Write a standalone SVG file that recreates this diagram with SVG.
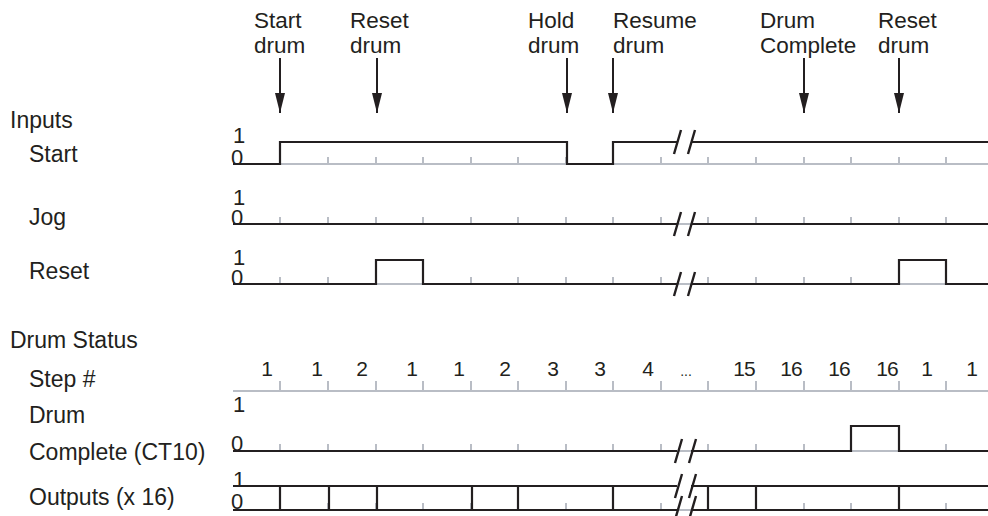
<svg xmlns="http://www.w3.org/2000/svg" width="988" height="516" viewBox="0 0 988 516">
<style>
text{font-family:"Liberation Sans",Arial,sans-serif;fill:#231f20}
.lbl{font-size:23px}
.top{font-size:22.5px}
.lv{font-size:22px}
.num{font-size:21px;text-anchor:middle}
.axis{stroke:#b9bdc5;stroke-width:2;fill:none}
.tick{stroke:#b9bdc5;stroke-width:2;fill:none}
.sig{stroke:#231f20;stroke-width:2.2;fill:none}
.brk{stroke:#231f20;stroke-width:2.4;fill:none}
.arr{stroke:#231f20;stroke-width:2;fill:none;marker-end:url(#ah)}
</style>
<defs>
<marker id="ah" viewBox="0 -5 20 10" refX="20" refY="0" markerWidth="20" markerHeight="10" markerUnits="userSpaceOnUse" orient="auto">
<path d="M0,-5 L20,0 L0,5 z" fill="#231f20"/>
</marker>
<path id="ticks" class="tick" d="M280,0v-7M328,0v-7M376,0v-7M423,0v-7M471,0v-7M518,0v-7M566,0v-7M613,0v-7M661,0v-7M708,0v-7M756,0v-7M804,0v-7M851,0v-7M899,0v-7M946,0v-7"/>
<path id="slash" class="brk" d="M-14,12L-7,-12M0,12L7,-12"/>
</defs>
<rect width="988" height="516" fill="#ffffff"/>

<g id="event-labels">
<text class="top" x="254" y="28">Start</text><text class="top" x="254" y="53">drum</text>
<text class="top" x="350" y="28">Reset</text><text class="top" x="350" y="53">drum</text>
<text class="top" x="528" y="28">Hold</text><text class="top" x="528" y="53">drum</text>
<text class="top" x="613" y="28">Resume</text><text class="top" x="613" y="53">drum</text>
<text class="top" x="760" y="28">Drum</text><text class="top" x="760" y="53">Complete</text>
<text class="top" x="878" y="28">Reset</text><text class="top" x="878" y="53">drum</text>
</g>

<g id="connectors">
<line class="arr" x1="280" y1="58" x2="280" y2="113"/>
<line class="arr" x1="377" y1="58" x2="377" y2="113"/>
<line class="arr" x1="567" y1="58" x2="567" y2="113"/>
<line class="arr" x1="613" y1="58" x2="613" y2="113"/>
<line class="arr" x1="804" y1="58" x2="804" y2="113"/>
<line class="arr" x1="899" y1="58" x2="899" y2="113"/>
</g>

<g id="row-labels">
<text class="lbl" x="10" y="128">Inputs</text>
<text class="lbl" x="29" y="162">Start</text>
<text class="lbl" x="29" y="225">Jog</text>
<text class="lbl" x="29" y="279">Reset</text>
<text class="lbl" x="10" y="348">Drum Status</text>
<text class="lbl" x="29" y="387">Step #</text>
<text class="lbl" x="29" y="423">Drum</text>
<text class="lbl" x="29" y="460">Complete (CT10)</text>
<text class="lbl" x="29" y="505">Outputs (x 16)</text>
</g>

<g id="start-row">
<line class="axis" x1="233" y1="164" x2="988" y2="164"/>
<use href="#ticks" y="164"/>
<text class="lv" x="233" y="143">1</text><text class="lv" x="231" y="165">0</text>
<path class="sig" d="M233,164H280V142H567V164H613V142H677M691,142H988"/>
<use href="#slash" x="688" y="142"/>
</g>

<g id="jog-row">
<line class="axis" x1="233" y1="224" x2="988" y2="224"/>
<use href="#ticks" y="224"/>
<text class="lv" x="233" y="205">1</text><text class="lv" x="231" y="225">0</text>
<path class="sig" d="M233,224H677M691,224H988"/>
<use href="#slash" x="688" y="224"/>
</g>

<g id="reset-row">
<line class="axis" x1="233" y1="284" x2="988" y2="284"/>
<use href="#ticks" y="284"/>
<text class="lv" x="233" y="265">1</text><text class="lv" x="231" y="285">0</text>
<path class="sig" d="M233,284H376V260H423V284H677M691,284H899V260H946V284H988"/>
<use href="#slash" x="688" y="284"/>
</g>

<g id="step-row">
<line class="axis" x1="233" y1="391" x2="988" y2="391"/>
<path class="tick" d="M280,391v-10M328,391v-10M376,391v-10M423,391v-10M471,391v-10M518,391v-10M566,391v-10M613,391v-10M661,391v-10M708,391v-10M756,391v-10M804,391v-10M851,391v-10M899,391v-10M946,391v-10"/>
<text class="num" x="267" y="376">1</text>
<text class="num" x="317" y="376">1</text>
<text class="num" x="362" y="376">2</text>
<text class="num" x="412" y="376">1</text>
<text class="num" x="459" y="376">1</text>
<text class="num" x="505" y="376">2</text>
<text class="num" x="553" y="376">3</text>
<text class="num" x="600" y="376">3</text>
<text class="num" x="648" y="376">4</text>
<text class="num" x="686" y="376" style="font-size:14px">...</text>
<text class="num" x="744" y="376" letter-spacing="-1">15</text>
<text class="num" x="791" y="376" letter-spacing="-1">16</text>
<text class="num" x="839" y="376" letter-spacing="-1">16</text>
<text class="num" x="887" y="376" letter-spacing="-1">16</text>
<text class="num" x="927" y="376">1</text>
<text class="num" x="972" y="376">1</text>
</g>

<g id="drum-complete-row">
<line class="axis" x1="233" y1="451" x2="988" y2="451"/>
<use href="#ticks" y="451"/>
<text class="lv" x="233" y="412">1</text><text class="lv" x="231" y="451">0</text>
<path class="sig" d="M233,451H677M691,451H851V426H899V451H988"/>
<use href="#slash" x="689" y="451"/>
</g>

<g id="outputs-row">
<line class="axis" x1="233" y1="510" x2="988" y2="510"/>
<use href="#ticks" y="510"/>
<text class="lv" x="233" y="487">1</text><text class="lv" x="231" y="509">0</text>
<path class="sig" d="M233,486H677M691,486H988M233,510H677M691,510H988M280,486V510M329,486V510M377,486V510M472,486V510M518,486V510M613,486V510M708,486V510M756,486V510M899,486V510"/>
<use href="#slash" x="689" y="486"/>
<use href="#slash" x="689" y="508"/>
</g>
</svg>
